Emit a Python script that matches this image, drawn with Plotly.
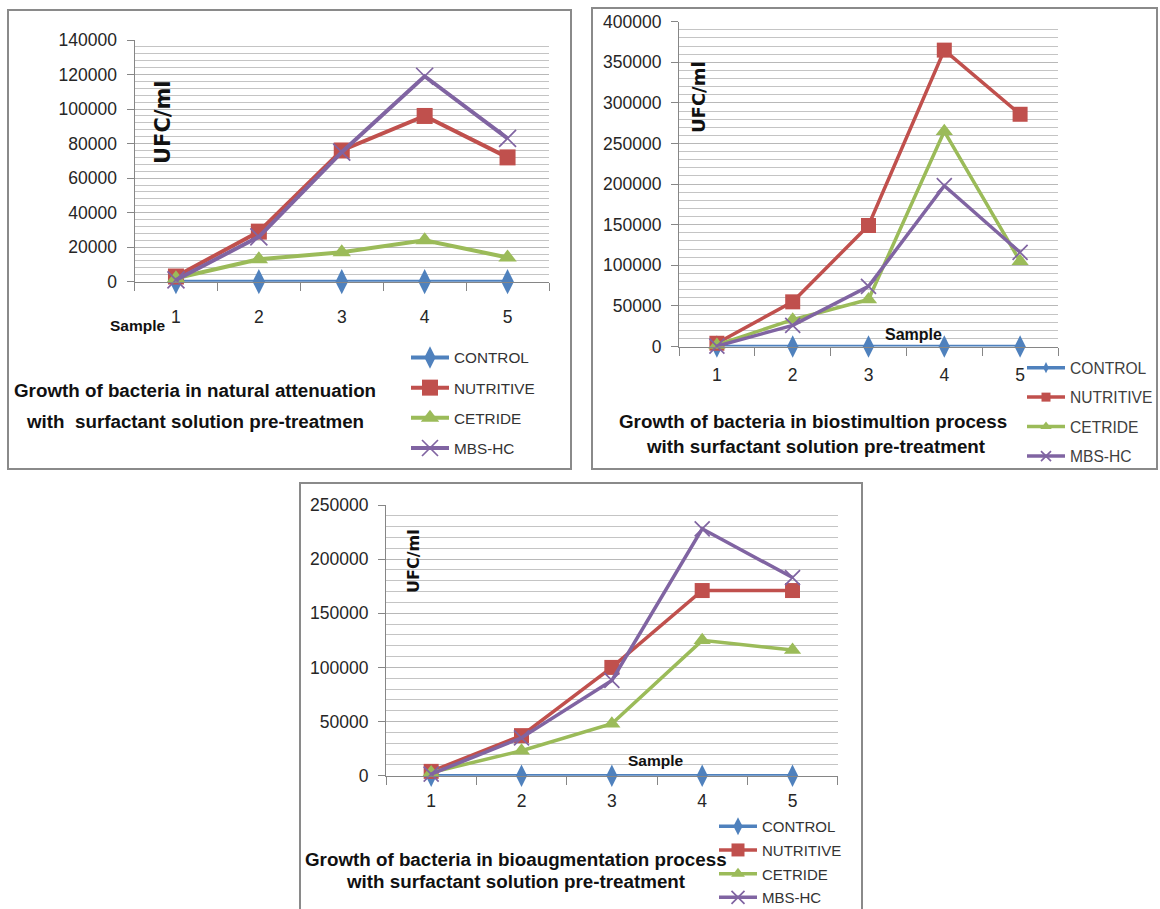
import plotly.graph_objects as go

W, H = 1160, 909

samples = ["1", "2", "3", "4", "5"]
series_names = ["CONTROL", "NUTRITIVE", "CETRIDE", "MBS-HC"]

# Panel 1: natural attenuation
p1_control = [0, 0, 0, 0, 0]
p1_nutritive = [3000, 29000, 76000, 96000, 72000]
p1_cetride = [2000, 13000, 17000, 24000, 14000]
p1_mbshc = [1000, 26000, 75000, 119000, 83000]

# Panel 2: biostimulation
p2_control = [0, 0, 0, 0, 0]
p2_nutritive = [4000, 55000, 149000, 365000, 286000]
p2_cetride = [2000, 33000, 58000, 265000, 105000]
p2_mbshc = [500, 26000, 74000, 198000, 116000]

# Panel 3: bioaugmentation
p3_control = [0, 0, 0, 0, 0]
p3_nutritive = [4000, 37000, 100000, 171000, 171000]
p3_cetride = [3000, 23000, 48000, 125000, 116000]
p3_mbshc = [1500, 35000, 88000, 228000, 183000]

titles = [
    ["Growth of bacteria in natural attenuation", "with  surfactant solution pre-treatmen"],
    ["Growth of bacteria in biostimultion process", "with surfactant solution pre-treatment"],
    ["Growth of bacteria in bioaugmentation process", "with surfactant solution pre-treatment"],
]
y_title = "UFC/ml"
x_title = "Sample"

colors = ["#4F81BD", "#C0504D", "#9BBB59", "#8064A2"]
symbols = ["diamond-tall", "square", "triangle-up", "x-thin"]

SANS = "Liberation Sans, Arial, sans-serif"
VERD = "DejaVu Sans, Verdana, sans-serif"


def px(x):
    return x / W


def py(y):
    return 1 - y / H


panels = [
    dict(data=[p1_control, p1_nutritive, p1_cetride, p1_mbshc], ymax=140000, dtick=20000, minor=4000,
         xd=(134.5, 549), yd=(40, 281.7), lw=4, ms=[18, 16, 16, 17], std=19,
         leg_ms=None),
    dict(data=[p2_control, p2_nutritive, p2_cetride, p2_mbshc], ymax=400000, dtick=50000, minor=10000,
         xd=(679, 1058), yd=(21.7, 346.5), lw=3.5, ms=[16, 15, 15, 15], std=12,
         leg_ms=[8, 9, 10, 10]),
    dict(data=[p3_control, p3_nutritive, p3_cetride, p3_mbshc], ymax=250000, dtick=50000, minor=10000,
         xd=(386, 837.7), yd=(505, 775.7), lw=3.5, ms=[16, 15, 15, 15], std=9,
         leg_ms=[13, 13, 12, 13]),
]

fig = go.Figure()
layout = dict(width=W, height=H, margin=dict(l=0, r=0, t=0, b=0, autoexpand=False),
              paper_bgcolor="white", plot_bgcolor="white", showlegend=True)


def marker(sym, size, color):
    mk = dict(symbol=sym, size=size, color=color)
    if sym == "x-thin":
        mk["line"] = dict(color=color, width=1.7)
    else:
        mk["line"] = dict(width=0)
    return mk


for i, p in enumerate(panels):
    sfx = "" if i == 0 else str(i + 1)
    xa, ya, leg = "x" + sfx, "y" + sfx, "legend" + sfx
    for k, name in enumerate(series_names):
        own_legend = p["leg_ms"] is None
        fig.add_trace(go.Scatter(
            x=samples, y=p["data"][k], name=name, mode="lines+markers",
            line=dict(color=colors[k], width=p["lw"]), marker=marker(symbols[k], p["ms"][k], colors[k]),
            xaxis=xa, yaxis=ya, legend=leg, cliponaxis=False,
            legendgroup=f"p{i}_{name}", showlegend=own_legend,
        ))
        if not own_legend:
            # legend entry with the smaller legend key seen in the reference
            fig.add_trace(go.Scatter(
                x=[None], y=[None], name=name, mode="lines+markers",
                line=dict(color=colors[k], width=3.5),
                marker=marker(symbols[k], p["leg_ms"][k], colors[k]),
                xaxis=xa, yaxis=ya, legend=leg, legendgroup=f"p{i}_{name}", showlegend=True,
                hoverinfo="skip",
            ))
    layout["xaxis" + sfx] = dict(
        domain=[px(p["xd"][0]), px(p["xd"][1])], anchor=ya, type="category",
        range=[-0.5, 4.5], showline=True, linecolor="#868686", linewidth=1,
        ticks="outside", ticklen=8, tickcolor="#868686", tickson="boundaries",
        showgrid=False, zeroline=False, tickfont=dict(family=SANS, size=17.5, color="#262626"),
        ticklabelstandoff=p["std"], fixedrange=True, automargin=False,
    )
    layout["yaxis" + sfx] = dict(
        domain=[py(p["yd"][1]), py(p["yd"][0])], anchor=xa, range=[0, p["ymax"]],
        dtick=p["dtick"], showline=True, linecolor="#868686", linewidth=1,
        ticks="outside", ticklen=7, tickcolor="#868686", showgrid=True, gridcolor="#b8b8b8",
        gridwidth=1, zeroline=False, tickformat="d",
        minor=dict(dtick=p["minor"], showgrid=True, gridcolor="#c4c4c4", gridwidth=1, ticks=""),
        tickfont=dict(family=SANS, size=17.5, color="#262626"), ticklabelstandoff=6,
        fixedrange=True, automargin=False,
    )

# legends
leg_specs = [
    dict(x=406, y=341, font=dict(family=SANS, size=15.3, color="#333333"), gap=7.3),
    dict(x=1022, y=351, font=dict(family=SANS, size=15.6, color="#404040"), gap=6.2),
    dict(x=714, y=810, font=dict(family=SANS, size=15, color="#333333"), gap=1.2),
]
for i, ls in enumerate(leg_specs):
    key = "legend" if i == 0 else f"legend{i + 1}"
    layout[key] = dict(x=px(ls["x"]), y=py(ls["y"]), xref="container", yref="container",
                       xanchor="left", yanchor="top",
                       font=ls["font"], bgcolor="rgba(0,0,0,0)", borderwidth=0,
                       tracegroupgap=ls["gap"], traceorder="grouped", itemwidth=38)

# frames
frames = [(8, 10, 571, 469), (592, 8, 1157, 469), (300, 483, 862, 920)]
shapes = []
for (x0, y0, x1, y1) in frames:
    shapes.append(dict(type="rect", xref="paper", yref="paper", x0=px(x0), x1=px(x1),
                       y0=py(y1), y1=py(y0), line=dict(color="#8a8a8a", width=2), layer="below"))
layout["shapes"] = shapes

ann = []
# titles
title_pos = [((195, 390), (195, 421)), ((813, 421.7), (816, 446.7)), ((516, 859), (516, 881.7))]
for t, pos in zip(titles, title_pos):
    for line, (cx, cy) in zip(t, pos):
        ann.append(dict(text=f"<b>{line}</b>", x=px(cx), y=py(cy), xref="paper", yref="paper",
                        showarrow=False, xanchor="center", yanchor="middle",
                        font=dict(family=SANS, size=18.8, color="#111111")))
# Sample labels
for (cx, cy, fs) in [(138, 325, 15.5), (913, 334, 16), (656, 760, 15.5)]:
    ann.append(dict(text=f"<b>{x_title}</b>", x=px(cx), y=py(cy), xref="paper", yref="paper",
                    showarrow=False, xanchor="center", yanchor="middle",
                    font=dict(family=SANS, size=fs, color="#111111")))
# UFC/ml
for (cx, cy, fs) in [(163, 122, 21), (698, 97, 18), (413, 561, 16)]:
    ann.append(dict(text=f"<b>{y_title}</b>", x=px(cx), y=py(cy), xref="paper", yref="paper",
                    showarrow=False, xanchor="center", yanchor="middle", textangle=-90,
                    font=dict(family=VERD, size=fs, color="#111111")))
layout["annotations"] = ann

fig.update_layout(**layout)
fig.write_html("out.html")
